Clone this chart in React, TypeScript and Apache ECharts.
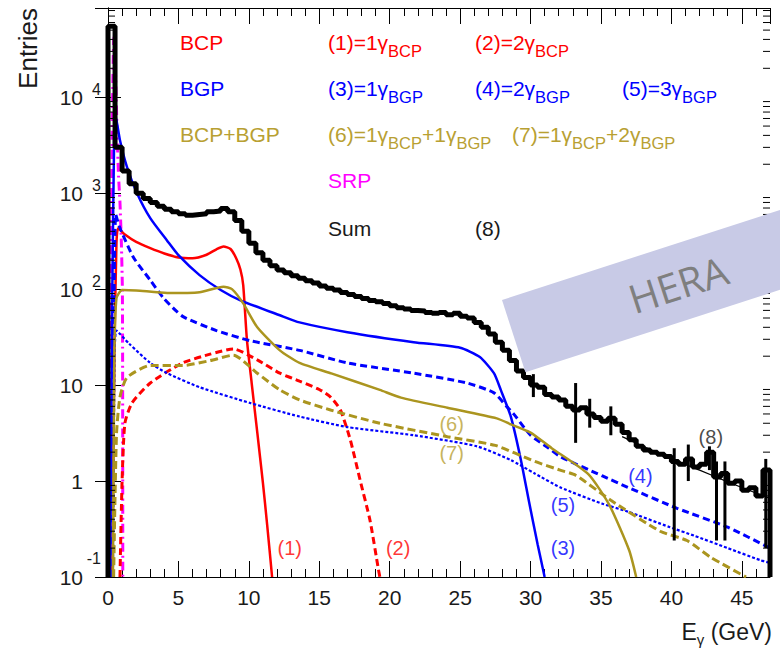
import React, { useEffect, useRef } from 'react';
import * as echarts from 'echarts';

const FONT = '"Liberation Sans", Arial, Helvetica, sans-serif';
const RED = '#ff0000';
const BLUE = '#0000ff';
const OLIVE = '#ab951f';
const OLIVE_TEXT = '#b8a032';
const MAGENTA = '#ff00ff';
const INK = '#1a1a1a';

// Axis ranges and tick definitions
const X_MAX = 47;
const X_TICK_STEP = 5;
const Y_MIN = 0.1;
const Y_MAX = 85000;
const Y_DECADES = [-1, 0, 1, 2, 3, 4];
const Y_MINOR_STEPS = [2, 3, 4, 5, 6, 7, 8, 9];

// Photon energy spectra, [E (GeV), entries]
const bcp1 = [[0.3, 0.1], [0.45, 20], [0.6, 300], [0.72, 430], [1.2, 370], [2, 310], [3, 267], [4, 235], [5, 214], [6, 210], [7, 228], [7.7, 260], [8.2, 278], [8.7, 262], [9.1, 210], [9.4, 160], [9.6, 110], [9.86, 30], [10.2, 10.5], [10.6, 3.2], [11.0, 0.95], [11.3, 0.35], [11.65, 0.1]];
const bcp2 = [[0.85, 0.1], [1.0, 1], [1.2, 4], [1.7, 6.5], [3, 10.5], [5.3, 17], [7.25, 21], [8.9, 23.8], [10.6, 18.3], [12.2, 13.3], [13.6, 11], [15, 9], [15.8, 7.5], [16.5, 5.5], [17.2, 2.7], [17.9, 1.02], [18.6, 0.39], [19.2, 0.12], [19.3, 0.1]];
const bgp1 = [[0.15, 0.1], [0.3, 80], [0.42, 2500], [0.5, 6900], [0.85, 3560], [1.35, 1870], [2.06, 1000], [3, 550], [4.2, 320], [5, 226], [6.5, 140], [8, 98], [9.4, 76.5], [12.2, 53.4], [13.6, 45], [17, 35.6], [21.7, 28], [25, 24.5], [26.4, 19.6], [27.4, 13.3], [27.9, 8.8], [28.6, 4.7], [29.3, 1.7], [29.9, 0.6], [30.5, 0.22], [31.0, 0.1]];
const bgp2 = [[0.3, 0.1], [0.4, 30], [0.55, 600], [0.8, 450], [1.8, 215], [3, 124], [3.9, 82], [5.3, 52], [7.7, 37], [10.1, 29], [13.6, 23], [17, 17], [21.7, 13.3], [25.5, 10.5], [27.4, 8.3], [28.3, 6], [28.9, 4.8], [30, 3.0], [31.3, 2.2], [32.1, 1.8], [35.1, 1.13], [36.9, 0.86], [40.4, 0.52], [44, 0.33], [47, 0.2]];
const bgp3 = [[0.35, 0.1], [0.45, 10], [0.6, 37], [1.5, 27], [3, 17], [4.2, 13.3], [6.5, 9.5], [10.1, 6.5], [13.6, 4.7], [17, 3.65], [21.7, 3.0], [26.2, 2.3], [28.6, 1.65], [30.3, 1.2], [32.1, 0.86], [35.1, 0.58], [36.9, 0.48], [39.9, 0.33], [41.6, 0.27], [44, 0.2], [46.3, 0.15], [47, 0.14]];
const mix11 = [[0.35, 0.1], [0.45, 20], [0.6, 80], [1, 98], [2, 97], [4.2, 91], [6.5, 93], [8.2, 106], [8.8, 100], [9.6, 71], [10.6, 40], [12.2, 23], [13.6, 17], [15.8, 13.3], [19.3, 8.9], [20.8, 7.4], [24.1, 5.8], [27.6, 4.5], [28.6, 3.9], [30, 3.2], [31.5, 2.2], [34.1, 1.18], [35.6, 0.56], [37, 0.19], [37.5, 0.1]];
const mix12 = [[0.4, 0.1], [0.6, 3], [0.85, 7.5], [1.35, 12], [3, 16], [5.3, 16], [7.25, 18], [8.9, 20.5], [10.6, 13.3], [12.2, 8.9], [13.6, 7], [15.8, 5.5], [19.3, 4.0], [24.1, 2.9], [27.5, 2.35], [30.3, 1.6], [32.1, 1.3], [33.2, 1.15], [35.7, 0.63], [39.2, 0.3], [41.1, 0.24], [42.8, 0.16], [45.3, 0.1]];
const srp = [[0.1, 0.1], [0.2, 30], [0.3, 5000], [0.42, 42000], [0.55, 15000], [0.65, 4000], [0.75, 1500], [0.85, 800], [0.95, 300], [1.02, 100], [1.04, 10], [1.05, 0.1]];

// Summed spectrum, 0.5 GeV bins starting at 0
const SUM_BIN = 0.5;
const sumCounts = [
  55000, 3000, 1700, 1250, 1000, 880, 800, 730, 680, 640,
  610, 590, 600, 610, 640, 650, 690, 640, 520, 400,
  300, 240, 200, 175, 158, 148, 138, 130, 122, 116,
  108, 102, 98, 92, 88, 84, 80, 76, 74, 71,
  67, 64, 62, 60, 59, 57, 56, 57, 54, 56,
  52, 50, 45, 40, 34, 28, 23, 18, 14, 12,
  10, 9.5, 8, 7.5, 7, 6, 5.5, 5.8, 5, 4.6,
  4.2, 4.5, 3.9, 3.2, 2.7, 2.3, 2.1, 2.0, 1.9, 1.8,
  1.6, 1.5, 1.7, 1.4, 1.5, 2.0, 1.1, 1.2, 0.95, 1.0,
  0.8, 0.85, 0.7, 1.3,
];
// Error bars of the summed spectrum, [E, low, high]
const sumErrors = [[30.2, 7.5, 13], [33.2, 2.5, 10.5], [34.2, 3.6, 7.2], [35.7, 3.0, 6.0], [40.2, 0.24, 2.2], [41.2, 1.0, 2.4], [42.7, 1.3, 2.3], [43.2, 0.24, 1.6], [43.8, 0.24, 1.6], [46.7, 0.2, 1.7]];
const sumFit = [[36.5, 2.9], [38, 2.3], [40, 1.7], [42, 1.3], [44, 0.98], [46, 0.75], [47, 0.66]];

// Curve tags
const tagNames = ['(1)', '(2)', '(3)', '(4)', '(5)', '(6)', '(7)', '(8)'];
const tagAt = [[12.9, 0.2], [20.6, 0.2], [32.3, 0.2], [37.8, 1.13], [32.3, 0.56], [24.4, 3.9], [24.4, 1.95], [42.8, 2.87]];
const tagColors = [RED, RED, BLUE, BLUE, BLUE, OLIVE_TEXT, OLIVE_TEXT, INK];

// Legend block
const legendRows = [
  ['BCP', '(1)=1γ{s|BCP}', '(2)=2γ{s|BCP}'],
  ['BGP', '(3)=1γ{s|BGP}', '(4)=2γ{s|BGP}', '(5)=3γ{s|BGP}'],
  ['BCP+BGP', '(6)=1γ{s|BCP}+1γ{s|BGP}', '(7)=1γ{s|BCP}+2γ{s|BGP}'],
  ['', 'SRP'],
  ['', 'Sum', '(8)'],
];
const legendColors = [RED, BLUE, OLIVE_TEXT, MAGENTA, INK];
const LEGEND_X = [[180, 328, 475], [180, 328, 475, 622], [180, 328, 512], [180, 328], [180, 328, 475]];
const LEGEND_Y = [42, 88, 134, 180, 228];

const buildOption = () => {
  const sumLine: number[][] = [[0, Y_MIN]];
  sumCounts.forEach((c, i) => sumLine.push([i * SUM_BIN, c]));
  sumLine.push([sumCounts.length * SUM_BIN, Y_MIN]);

  const minorTicks: number[][] = [];
  Y_DECADES.forEach((d) => {
    Y_MINOR_STEPS.forEach((m) => {
      const v = m * Math.pow(10, d);
      if (v < Y_MAX) minorTicks.push([0, v]);
    });
  });

  const curve = (data: number[][], color: string, type: any, width: number) => ({
    type: 'line',
    data,
    symbol: 'none',
    smooth: 0.2,
    silent: true,
    lineStyle: { color, width, type },
    z: 3,
  });

  const legendGraphics: any[] = [];
  legendRows.forEach((row, r) => {
    row.forEach((txt, c) => {
      if (!txt) return;
      legendGraphics.push({
        type: 'text',
        x: LEGEND_X[r][c],
        y: LEGEND_Y[r],
        z: 50,
        style: {
          text: txt,
          fill: legendColors[r],
          fontSize: 21,
          fontFamily: FONT,
          align: 'left',
          verticalAlign: 'middle',
          textAlign: 'left',
          textVerticalAlign: 'middle',
          rich: { s: { fontSize: 16.5, fontFamily: FONT, fill: legendColors[r], padding: [17, 0, 0, 0] } },
        },
      });
    });
  });

  const yLabel = (v: number) => {
    const p = Math.round(Math.log10(v));
    if (Math.abs(Math.log10(v) - p) > 1e-6) return '';
    if (p === 0) return '1{gap| }';
    if (p === 1) return '10{gap| }';
    if (p < 0) return '10{hi|' + p + '}';
    return '10{sup|' + p + '}';
  };

  const yAxisBase = {
    type: 'log',
    logBase: 10,
    min: Y_MIN,
    max: Y_MAX,
    splitLine: { show: false },
    axisLine: { show: true, lineStyle: { color: '#000', width: 1 } },
    axisTick: { show: true, inside: true, length: 13, lineStyle: { color: '#000', width: 1 } },
    minorTick: { show: false },
  };

  const xAxisBase = {
    type: 'value',
    min: 0,
    max: X_MAX,
    interval: X_TICK_STEP,
    splitLine: { show: false },
    axisLine: { show: true, onZero: false, lineStyle: { color: '#000', width: 1 } },
    axisTick: { show: true, inside: true, length: 16, lineStyle: { color: '#000', width: 1 } },
    minorTick: { show: true, splitNumber: 5, length: 8, lineStyle: { color: '#000', width: 1 } },
  };

  return {
    animation: false,
    backgroundColor: '#ffffff',
    grid: { left: 108, right: 10, top: 8, bottom: 75 },
    xAxis: [
      {
        ...xAxisBase,
        position: 'bottom',
        axisLabel: {
          show: true,
          fontSize: 21,
          fontFamily: FONT,
          color: INK,
          margin: 10,
          formatter: (v: number) => (v % X_TICK_STEP === 0 ? String(v) : ''),
        },
      },
      { ...xAxisBase, position: 'top', axisLabel: { show: false } },
    ],
    yAxis: [
      {
        ...yAxisBase,
        position: 'left',
        axisLabel: {
          show: true,
          fontSize: 21,
          fontFamily: FONT,
          color: INK,
          margin: 7,
          formatter: yLabel,
          rich: {
            sup: { fontSize: 16, fontFamily: FONT, color: INK, width: 18, align: 'right', padding: [0, 0, 16, 0] },
            hi: { fontSize: 16, fontFamily: FONT, color: INK, width: 18, align: 'right', padding: [0, 0, 38, 0] },
            gap: { fontSize: 16, width: 18, align: 'right' },
          },
        },
      },
      { ...yAxisBase, position: 'right', axisLabel: { show: false } },
    ],
    series: [
      {
        type: 'custom',
        silent: true,
        data: minorTicks,
        z: 5,
        renderItem: (params: any, api: any) => {
          const cs = params.coordSys;
          const y = api.coord([0, api.value(1)])[1];
          const st = { stroke: '#000', lineWidth: 1 };
          return {
            type: 'group',
            children: [
              { type: 'line', shape: { x1: cs.x, y1: y, x2: cs.x + 7, y2: y }, style: st },
              { type: 'line', shape: { x1: cs.x + cs.width - 7, y1: y, x2: cs.x + cs.width, y2: y }, style: st },
            ],
          };
        },
      },
      curve(srp, MAGENTA, [9, 4, 2, 4], 3),
      curve(bcp1, RED, 'solid', 2.5),
      curve(bcp2, RED, [7, 4], 3),
      curve(bgp1, BLUE, 'solid', 2.5),
      curve(bgp2, BLUE, [7, 4], 3),
      curve(bgp3, BLUE, [3, 2], 2.2),
      curve(mix11, OLIVE, 'solid', 2.5),
      curve(mix12, OLIVE, [8, 4], 3),
      {
        type: 'line',
        data: sumLine,
        step: 'end',
        symbol: 'none',
        silent: true,
        lineStyle: { color: '#000', width: 5 },
        z: 4,
      },
      {
        type: 'line',
        data: sumFit,
        symbol: 'none',
        smooth: 0.3,
        silent: true,
        lineStyle: { color: '#000', width: 1.2 },
        z: 4,
      },
      {
        type: 'custom',
        silent: true,
        data: sumErrors,
        z: 4,
        renderItem: (params: any, api: any) => {
          const p1 = api.coord([api.value(0), api.value(1)]);
          const p2 = api.coord([api.value(0), api.value(2)]);
          return {
            type: 'line',
            shape: { x1: p1[0], y1: p1[1], x2: p2[0], y2: p2[1] },
            style: { stroke: '#000', lineWidth: 3 },
          };
        },
      },
      {
        type: 'scatter',
        symbolSize: 0,
        silent: true,
        z: 10,
        data: tagNames.map((n, i) => ({ name: n, value: tagAt[i], label: { color: tagColors[i] } })),
        label: {
          show: true,
          position: 'inside',
          fontSize: 20,
          fontFamily: FONT,
          formatter: (p: any) => p.name,
        },
      },
    ],
    graphic: [
      ...legendGraphics,
      {
        type: 'text',
        x: 28,
        y: 8,
        rotation: Math.PI / 2,
        style: {
          text: 'Entries',
          fill: INK,
          fontSize: 26,
          fontFamily: FONT,
          align: 'right',
          verticalAlign: 'middle',
          textAlign: 'right',
          textVerticalAlign: 'middle',
        },
      },
      {
        type: 'text',
        x: 772,
        y: 632,
        style: {
          text: 'E{s|γ} (GeV)',
          fill: INK,
          fontSize: 23,
          fontFamily: FONT,
          align: 'right',
          verticalAlign: 'middle',
          textAlign: 'right',
          textVerticalAlign: 'middle',
          rich: { s: { fontSize: 15, fontFamily: FONT, fill: INK, padding: [14, 0, 0, 0] } },
        },
      },
      {
        type: 'rect',
        x: 502,
        y: 300,
        rotation: 0.313,
        z: 100,
        shape: { x: 0, y: 0, width: 420, height: 76 },
        style: { fill: '#c8cae6' },
      },
      {
        type: 'text',
        x: 678,
        y: 284,
        rotation: 0.313,
        z: 101,
        style: {
          text: 'HERA',
          fill: '#7f7f7f',
          fontSize: 40,
          fontFamily: '"Open Sans", "Noto Sans", sans-serif',
          align: 'center',
          verticalAlign: 'middle',
          textAlign: 'center',
          textVerticalAlign: 'middle',
        },
      },
    ],
  };
};

export default function App() {
  const ref = useRef<HTMLDivElement>(null);
  useEffect(() => {
    if (!ref.current) return;
    const chart = echarts.init(ref.current, null, { renderer: 'svg' });
    chart.setOption(buildOption() as any);
    return () => chart.dispose();
  }, []);
  return (
    <div
      ref={ref}
      style={{ position: 'fixed', left: 0, top: 0, width: 780, height: 652, background: '#fff' }}
    />
  );
}
